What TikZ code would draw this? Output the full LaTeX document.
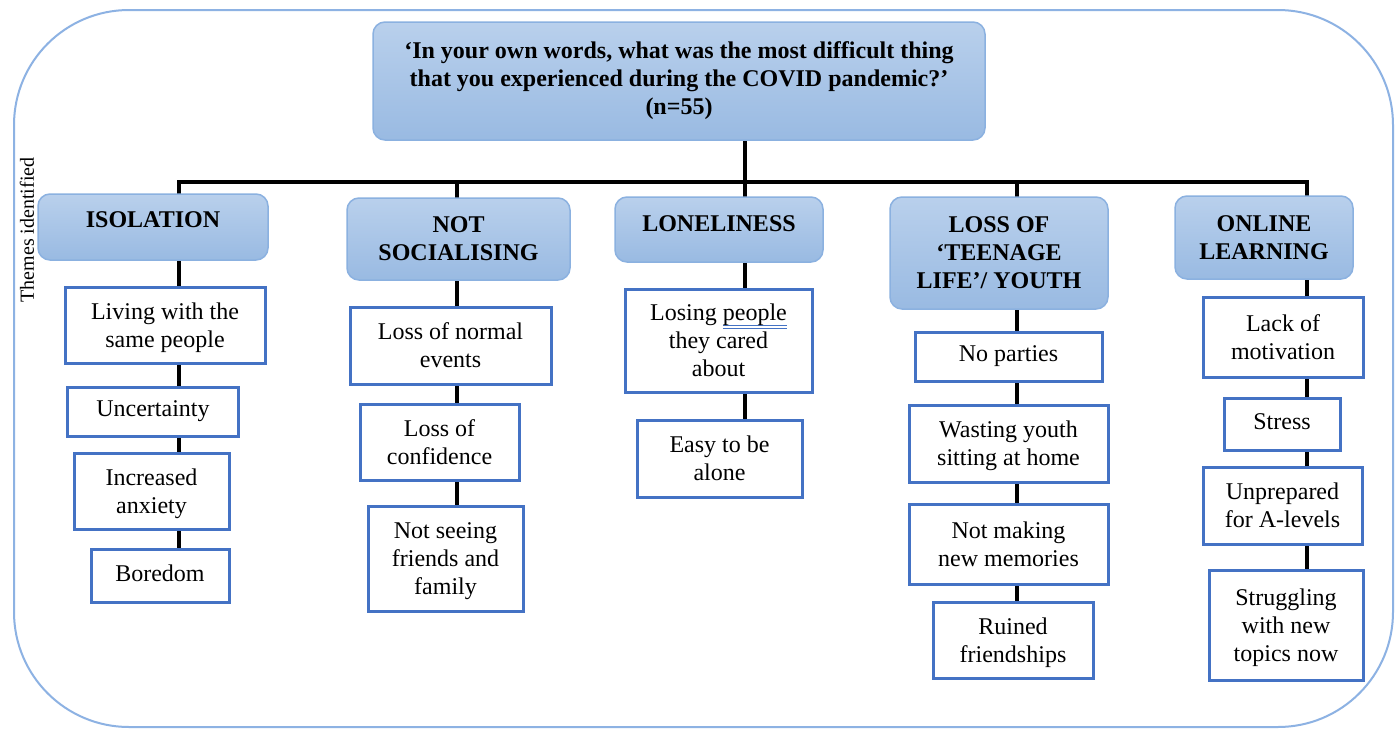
\documentclass[tikz,border=0pt]{standalone}
\usepackage{fontspec}
\setmainfont{Liberation Serif}
\usetikzlibrary{backgrounds}
\definecolor{frameblue}{HTML}{8DB2E3}
\definecolor{thtop}{HTML}{B9D0EC}
\definecolor{thbot}{HTML}{99BAE2}
\definecolor{thborder}{HTML}{8BB1E0}
\definecolor{childborder}{HTML}{4472C4}
\definecolor{ulblue}{HTML}{4472C4}
\newcommand\spellul[1]{\setbox0\hbox{#1}\rlap{\textcolor{ulblue}{\raisebox{-5pt}{\rule{\wd0}{1pt}}}}\rlap{\textcolor{ulblue}{\raisebox{-8pt}{\rule{\wd0}{1pt}}}}#1}
\tikzset{
  themebox/.style={draw=thborder, line width=1.5pt, rounded corners=12pt, top color=thtop, bottom color=thbot, align=center, font=\fontsize{24}{28}\selectfont\bfseries, inner sep=0pt},
  childbox/.style={draw=childborder, line width=3pt, fill=white, align=center, font=\fontsize{24}{28}\selectfont, inner sep=0pt, text depth=0pt},
  onechild/.style={childbox, text depth=5pt},
  conn/.style={line width=4.5pt, black, line join=miter},
  sz/.style n args={2}{minimum width=#1pt, minimum height=#2pt},
}
\begin{document}
\begin{tikzpicture}[x=1pt, y=-1pt]
\useasboundingbox (0,0) rectangle (1398,729);
% outer frame
\draw[frameblue, line width=2pt, rounded corners=115pt] (14,10) rectangle (1393,727);
% label
\node[rotate=90, font=\fontsize{20}{24}\selectfont] (lbl) at (27,230) {Themes identified};
% top question
\node[themebox, sz={612}{118}] (top) at (679,81)
  {‘In your own words, what was the most difficult thing\\that you experienced during the COVID pandemic?’\\(n=55)};
% themes
\node[themebox, sz={230}{66}, text depth=14pt] (t1) at (153,227) {ISOLATION};
\node[themebox, sz={223}{82}] (t2) at (458.5,239) {NOT\\SOCIALISING};
\node[themebox, sz={208}{65}, text depth=12pt] (t3) at (719,229.5) {LONELINESS};
\node[themebox, sz={218}{112}] (t4) at (999,253) {LOSS OF\\‘TEENAGE\\LIFE’/ YOUTH};
\node[themebox, sz={178}{83}] (t5) at (1264,237.5) {ONLINE\\LEARNING};
% column 1
\node[childbox, sz={200}{76}] (c11) at (165,325) {Living with the\\same people};
\node[onechild, sz={171}{49}] (c12) at (153,411.5) {Uncertainty};
\node[childbox, sz={155}{76}] (c13) at (151.5,491) {Increased\\anxiety};
\node[onechild, sz={138}{53}] (c14) at (160,575.5) {Boredom};
% column 2
\node[childbox, sz={201}{77}] (c21) at (450.5,345.5) {Loss of normal\\events};
\node[childbox, sz={159}{76}] (c22) at (439.5,442) {Loss of\\confidence};
\node[childbox, sz={155}{105}] (c23) at (445.5,558.5) {Not seeing\\friends and\\family};
% column 3
\node[childbox, sz={187}{103}] (c31) at (718.5,340.5) {Losing \spellul{people}\\they cared\\about};
\node[childbox, sz={165}{77}] (c32) at (719.5,458.5) {Easy to be\\alone};
% column 4
\node[onechild, sz={187}{49}] (c41) at (1008.5,356.5) {No parties};
\node[childbox, sz={199}{77}] (c42) at (1008.5,443.5) {Wasting youth\\sitting at home};
\node[childbox, sz={199}{80}] (c43) at (1008.5,544) {Not making\\new memories};
\node[childbox, sz={160}{76}] (c44) at (1013,640) {Ruined\\friendships};
% column 5
\node[childbox, sz={160}{80}] (c51) at (1283,337) {Lack of\\motivation};
\node[onechild, sz={116}{52}] (c52) at (1282,424) {Stress};
\node[childbox, sz={159}{77}] (c53) at (1282.5,505.5) {Unprepared\\for A-levels};
\node[childbox, sz={154}{110}] (c54) at (1286,625) {Struggling\\with new\\topics now};
% bus coordinates
\coordinate (j1) at (179,182);
\coordinate (j2) at (457,182);
\coordinate (j3) at (745,182);
\coordinate (j4) at (1017,182);
\coordinate (j5) at (1307,182);
\begin{pgfonlayer}{background}
  \fill[white] (0,0) rectangle (1398,729);
  \draw[conn] (top.south -| j3) -- (j3);
  \draw[conn] (j1 |- c14.north) -- (j1) -- (j5) -- (j5 |- c54.north);
  \draw[conn] (j2) -- (j2 |- c23.north);
  \draw[conn] (j3) -- (j3 |- c32.north);
  \draw[conn] (j4) -- (j4 |- c44.north);
\end{pgfonlayer}
\end{tikzpicture}
\end{document}
